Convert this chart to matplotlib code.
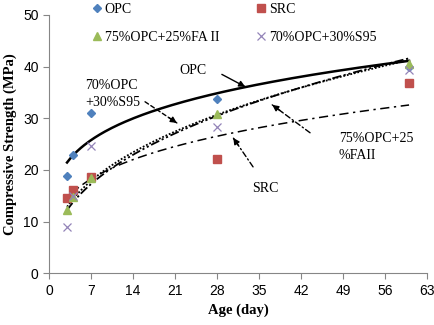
import numpy as np
import matplotlib
matplotlib.use('Agg')
import matplotlib.pyplot as plt

# Measured strengths (MPa) at each age (day)
opc_age = [3, 4, 7, 28, 60]
opc_mpa = [18.9, 22.9, 31.0, 33.7, 40.0]

src_age = [3, 4, 7, 28, 60]
src_mpa = [14.6, 16.2, 18.6, 22.2, 36.9]

fa_age = [3, 4, 7, 28, 60]
fa_mpa = [12.3, 14.7, 18.5, 30.9, 40.6]

s95_age = [3, 4, 7, 28, 60]
s95_mpa = [8.9, 15.0, 24.7, 28.3, 39.4]

x_ticks = [0, 7, 14, 21, 28, 35, 42, 49, 56, 63]
y_ticks = [0, 10, 20, 30, 40, 50]

SERIF = 'Liberation Serif'
SANS = 'Liberation Sans'


def power_trend(age, mpa):
    """Excel-style power trendline y = a * x^b, drawn from first to last age."""
    b, ln_a = np.polyfit(np.log(age), np.log(mpa), 1)
    xs = np.linspace(min(age), max(age), 200)
    return xs, np.exp(ln_a) * xs ** b


fig = plt.figure(figsize=(4.34, 3.25), dpi=100)
ax = fig.add_axes([0.113, 0.159, 0.871, 0.795])

# Trend lines
xs, ys = power_trend(opc_age, opc_mpa)
ax.plot(xs, ys, color='black', lw=1.8, ls='-')
xs, ys = power_trend(s95_age, s95_mpa)
ax.plot(xs, ys, color='black', lw=1.3, ls=(0, (5, 1.5, 1.2, 1.5, 1.2, 1.5)))
xs, ys = power_trend(fa_age, fa_mpa)
ax.plot(xs, ys, color='black', lw=1.3, ls=(0, (1, 1)))
xs, ys = power_trend(src_age, src_mpa)
ax.plot(xs, ys, color='black', lw=1.1, ls=(0, (6, 3, 1.5, 3)))

# Data points
h_opc, = ax.plot(opc_age, opc_mpa, 'D', color='#4F81BD', ms=4.5, ls='none', label='OPC')
h_src, = ax.plot(src_age, src_mpa, 's', color='#C0504D', ms=5.5, ls='none', label='SRC')
h_fa, = ax.plot(fa_age, fa_mpa, '^', color='#9BBB59', ms=5.5, ls='none', label='75%OPC+25%FA II')
h_s95, = ax.plot(s95_age, s95_mpa, 'x', color='#9384B8', ms=6, mew=0.9, ls='none',
                 label='70%OPC+30%S95')

ax.set_xlim(0, 63)
ax.set_ylim(0, 50)
ax.set_xticks(x_ticks)
ax.set_yticks(y_ticks)

for side in ['top', 'right']:
    ax.spines[side].set_visible(False)
for side in ['left', 'bottom']:
    ax.spines[side].set_color('#868686')
    ax.spines[side].set_linewidth(0.8)
ax.tick_params(direction='out', length=4, width=0.8, color='#868686',
               labelsize=10)
for lab in ax.get_xticklabels() + ax.get_yticklabels():
    lab.set_fontfamily(SANS)

ax.set_xlabel('Age (day)', fontfamily=SERIF, fontweight='bold', fontsize=10.5, labelpad=4)
ax.set_ylabel('Compressive Strength (MPa)', fontfamily=SERIF, fontweight='bold',
              fontsize=10.5, labelpad=4)


def arrow(start, end, style):
    """Shaft in the given line style plus a small solid head."""
    ax.annotate('', xy=end, xytext=start,
                arrowprops=dict(arrowstyle='-', color='black', lw=1.0, ls=style,
                                shrinkA=0, shrinkB=0))
    dx, dy = end[0] - start[0], end[1] - start[1]
    back = (end[0] - 0.25 * dx, end[1] - 0.25 * dy)
    ax.annotate('', xy=end, xytext=back,
                arrowprops=dict(arrowstyle='-|>', color='black', lw=1.0,
                                mutation_scale=9, shrinkA=0, shrinkB=0))


arrow((28.8, 38.5), (32.7, 36.1), '-')
arrow((16.0, 33.2), (21.3, 29.1), (0, (3, 2)))
arrow((43.5, 27.2), (37.2, 32.6), (0, (4, 2, 1, 2)))
arrow((34.0, 20.6), (30.7, 26.2), (0, (4, 2, 1, 2)))

ax.text(21.8, 39.2, 'OPC', fontfamily=SERIF, fontsize=10, va='center', ha='left')
ax.text(6.0, 34.65, '70%OPC\n+30%S95', fontfamily=SERIF, fontsize=10,
        va='center', ha='left', linespacing=1.4)
ax.text(48.3, 24.5, '75%OPC+25\n%FAII', fontfamily=SERIF, fontsize=10,
        va='center', ha='left', linespacing=1.4)
ax.text(33.8, 16.4, 'SRC', fontfamily=SERIF, fontsize=10, va='center', ha='left')

# column-major fill: OPC / FA in the first column, SRC / S95 in the second
leg = fig.legend([h_opc, h_fa, h_src, h_s95],
                 [h.get_label() for h in (h_opc, h_fa, h_src, h_s95)],
                 loc='upper left', bbox_to_anchor=(0.2, 1.008), ncol=2,
                 frameon=False, prop={'family': SERIF, 'size': 10},
                 handlelength=0.6, handletextpad=0.3, columnspacing=2.7,
                 labelspacing=1.05, borderaxespad=0)

fig.savefig('out.png', dpi=100)
